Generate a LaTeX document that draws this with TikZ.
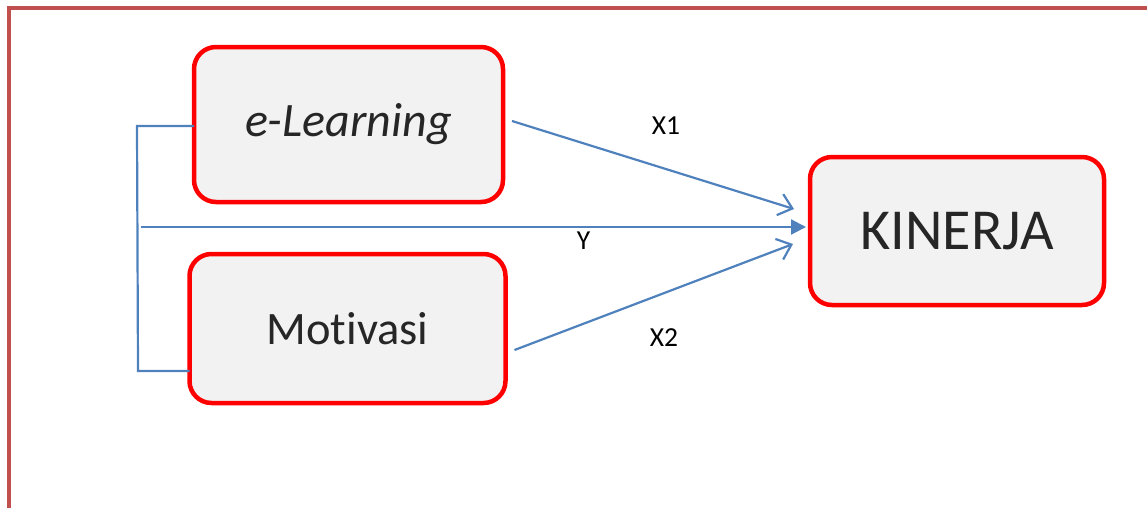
\documentclass[tikz,border=0pt]{standalone}
\usepackage{fontspec}
\setmainfont[Ligatures={NoCommon}]{Carlito}
\usetikzlibrary{arrows.meta}
\definecolor{frameRed}{HTML}{C0504D}
\definecolor{boxFill}{HTML}{F2F2F2}
\definecolor{lineBlue}{HTML}{4F81BD}
\definecolor{txt}{HTML}{262626}
\tikzset{
  varbox/.style={draw=red, line width=4.5pt, fill=boxFill, rounded corners=22pt,
    text=txt, inner sep=0pt, outer sep=0pt},
  conn/.style={draw=lineBlue, line width=2.2pt},
  lbl/.style={text=black, font=\fontsize{27.5}{30}\selectfont, inner sep=0pt},
}
\begin{document}
\begin{tikzpicture}[x=1pt,y=-1pt]
\useasboundingbox (0,0) rectangle (1147,507);
\begin{scope}
\clip (0,0) rectangle (1147,507);
\draw[frameRed, line width=4.5pt] (9,8) rectangle (1170,530);
\end{scope}

\node[varbox, minimum width=309pt, minimum height=155pt,
  font=\fontsize{48}{50}\selectfont\itshape] (eL) at (348.5,124.5) {e-Learning};
\node[varbox, minimum width=316pt, minimum height=149pt,
  font=\fontsize{46.5}{50}\selectfont] (mot) at (347.5,328.5) {Motivasi};
\node[varbox, minimum width=294pt, minimum height=148pt,
  font=\fontsize{58}{60}\selectfont] (kin) at (957,231) {KINERJA};

\coordinate (b1) at (137,126);
\coordinate (b2) at (138,371);
\coordinate (ys) at (141,227);

\draw[conn] ([yshift=-1.5pt]eL.west) -- (b1) -- (b2) -- (mot.west |- b2);
\draw[conn, -{Triangle[length=15pt,width=15pt]}] (ys) -- ([xshift=-4pt]kin.west |- ys);
\draw[conn, -{Straight Barb[length=13pt,width=22pt]}] ([xshift=9pt,yshift=3.5pt]eL.east) -- ([xshift=-16pt,yshift=22pt]kin.west);
\draw[conn, -{Straight Barb[length=13pt,width=22pt]}] ([xshift=9pt,yshift=-21.5pt]mot.east) -- ([xshift=-17pt,yshift=-13pt]kin.west);

\node[lbl] (lx1) at (666,126) {X1};
\node[lbl] (ly) at (583.5,241) {Y};
\node[lbl] (lx2) at (664,338) {X2};
\end{tikzpicture}
\end{document}
